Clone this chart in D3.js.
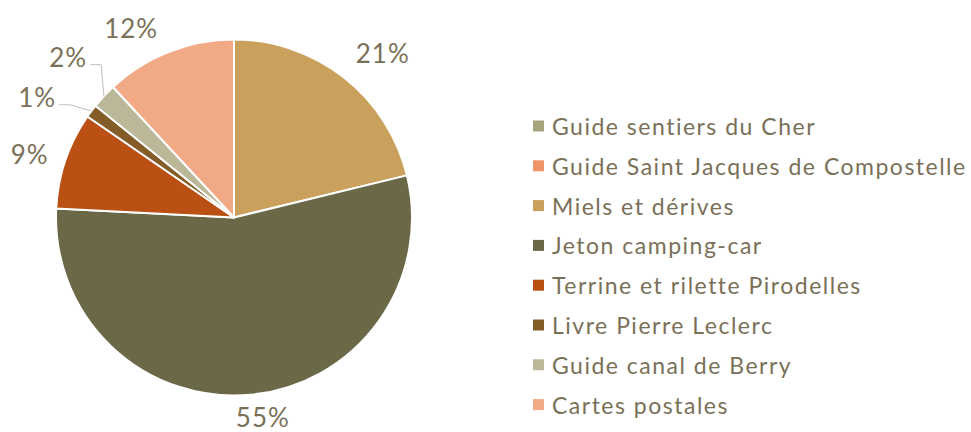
<!DOCTYPE html>
<html>
<head>
<meta charset="utf-8">
<script src="https://cdn.jsdelivr.net/npm/d3@7"></script>
<style>
    body { margin: 0; background: #fff; }
    svg { display: block; }
</style>
</head>
<body>
<div id="chart"></div>
<script>
// Data (in percent)
const categories = [
    'Guide sentiers du Cher',
    'Guide Saint Jacques de Compostelle',
    'Miels et dérives',
    'Jeton camping-car',
    'Terrine et rilette Pirodelles',
    'Livre Pierre Leclerc',
    'Guide canal de Berry',
    'Cartes postales'
];
const values = [0, 0, 21.2, 54.6, 8.8, 1.2, 2.3, 11.9];
const colors = ['#a5a47d', '#f0956a', '#c9a05c', '#6a6847', '#bb5014', '#835c28', '#bab898', '#f2aa86'];

// Label placement: angle nudge (deg) from slice middle, distance from centre
const labelNudge = [0, 0, 3.9, -2.8, -1.4, -5.2, 1.1, -7.0];
const labelDist = [0, 0, 222, 202, 214, 231, 231, 216];
const callout = [false, false, false, false, false, true, true, false];

const width = 971, height = 432;
const cx = 234, cy = 217.5, radius = 178;
const textColor = '#7a7058';
const font = 'Lato, "DejaVu Sans", sans-serif';

const svg = d3.select('#chart')
    .append('svg')
    .attr('width', width)
    .attr('height', height);

const data = categories.map((name, i) => ({ name, value: values[i], i }));
const total = d3.sum(values);

const pie = d3.pie()
    .sort(null)
    .value(d => d.value);

const arc = d3.arc()
    .innerRadius(0)
    .outerRadius(radius);

const arcs = pie(data).filter(d => d.data.value > 0);

const g = svg.append('g')
    .attr('transform', `translate(${cx},${cy})`);

// Slices
g.selectAll('path.slice')
    .data(arcs)
    .enter()
    .append('path')
    .attr('class', 'slice')
    .attr('d', arc)
    .attr('fill', d => colors[d.data.i])
    .attr('stroke', '#fff')
    .attr('stroke-width', 2)
    .attr('stroke-linejoin', 'round');

// Percent labels
const fmt = d3.format('.0%');
const polar = (a, r) => [r * Math.sin(a), -r * Math.cos(a)];

arcs.forEach(d => {
    const i = d.data.i;
    const mid = (d.startAngle + d.endAngle) / 2;
    const [lx, ly] = polar(mid + labelNudge[i] * Math.PI / 180, labelDist[i]);

    const label = g.append('text')
        .attr('x', lx)
        .attr('y', ly)
        .attr('text-anchor', 'middle')
        .attr('dominant-baseline', 'central')
        .style('font-family', font)
        .style('font-size', '26px')
        .style('letter-spacing', '1px')
        .style('fill', textColor)
        .text(fmt(d.data.value / total));

    if (callout[i]) {
        const w = label.node().getComputedTextLength();
        const sx = lx + w / 2 + 3;
        const sy = ly + 8;
        const [ex, ey] = polar(mid, radius);
        g.append('polyline')
            .attr('points', [[sx, sy], [sx + 11, sy], [ex, ey]].map(p => p.join(',')).join(' '))
            .attr('fill', 'none')
            .attr('stroke', '#bfbfbf')
            .attr('stroke-width', 1);
    }
});

// Legend
const legendX = 533, legendY = 126, rowGap = 39.8;

const legend = svg.append('g')
    .selectAll('g')
    .data(data)
    .enter()
    .append('g')
    .attr('transform', (d, i) => `translate(${legendX},${legendY + i * rowGap})`);

legend.append('rect')
    .attr('x', 0)
    .attr('y', -5.5)
    .attr('width', 11)
    .attr('height', 11)
    .attr('fill', d => colors[d.i]);

legend.append('text')
    .attr('x', 19)
    .attr('y', 0)
    .attr('dominant-baseline', 'central')
    .style('font-family', font)
    .style('font-size', '23px')
    .style('letter-spacing', '1.5px')
    .style('fill', textColor)
    .text(d => d.name);
</script>
</body>
</html>
